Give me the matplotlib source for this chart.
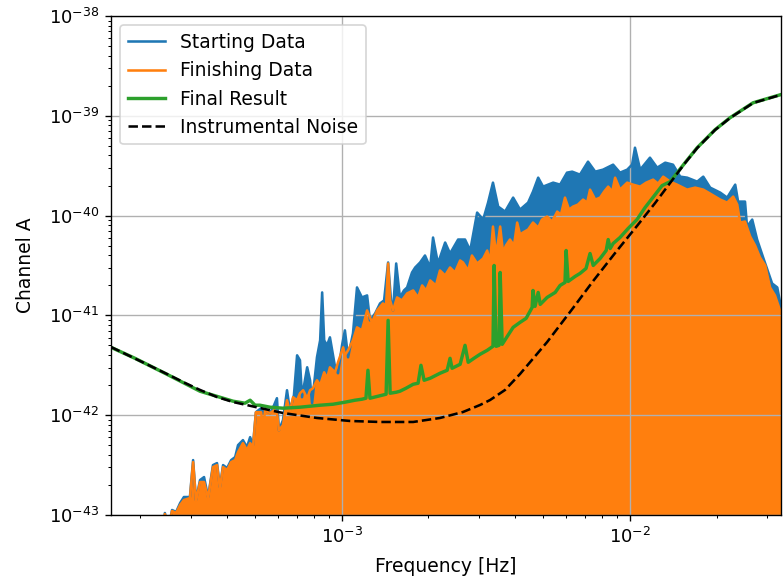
import matplotlib.pyplot as plt
import numpy as np

# %% spectra, stored as log10 values
# (frequency in Hz, channel A power)

start_logf = [
    -3.620, -3.614, -3.603, -3.589, -3.575, -3.561, -3.548, -3.527, -3.516, -3.506,
    -3.492, -3.478, -3.464, -3.447, -3.433, -3.423, -3.412, -3.398, -3.384, -3.370,
    -3.360, -3.343, -3.329, -3.318, -3.308, -3.298, -3.280, -3.266, -3.249, -3.235,
    -3.225, -3.218, -3.204, -3.190, -3.180, -3.166, -3.155, -3.145, -3.138, -3.120,
    -3.110, -3.103, -3.086, -3.075, -3.068, -3.061, -3.051, -3.041, -3.023, -3.013,
    -2.999, -2.989, -2.978, -2.961, -2.947, -2.930, -2.912, -2.902, -2.884, -2.867,
    -2.853, -2.839, -2.829, -2.822, -2.811, -2.798, -2.784, -2.773, -2.756, -2.745,
    -2.728, -2.711, -2.693, -2.683, -2.666, -2.641, -2.624, -2.596, -2.572, -2.554,
    -2.530, -2.509, -2.492, -2.475, -2.457, -2.433, -2.405, -2.381, -2.353, -2.336,
    -2.318, -2.301, -2.266, -2.242, -2.218, -2.200, -2.173, -2.145, -2.120, -2.093,
    -2.058, -2.034, -2.009, -1.992, -1.982, -1.964, -1.930, -1.905, -1.877, -1.850,
    -1.825, -1.801, -1.766, -1.745, -1.721, -1.686, -1.662, -1.634, -1.624, -1.600,
    -1.593, -1.575, -1.558, -1.537, -1.506, -1.488, -1.475,
]
start_logp = [
    -43.20, -42.98, -43.15, -42.95, -42.97, -42.88, -42.82, -42.82, -42.45, -42.85,
    -42.65, -42.62, -42.82, -42.50, -42.48, -42.72, -42.50, -42.53, -42.45, -42.42,
    -42.30, -42.25, -42.32, -42.22, -42.30, -41.97, -41.93, -41.95, -41.98, -41.90,
    -41.83, -42.15, -42.05, -41.75, -41.95, -41.80, -41.40, -41.45, -41.82, -41.52,
    -41.65, -41.88, -41.42, -41.25, -40.77, -41.25, -41.30, -41.22, -41.52, -41.58,
    -41.30, -41.15, -41.42, -41.18, -40.72, -40.82, -40.80, -41.05, -40.98, -40.88,
    -40.85, -40.47, -40.85, -40.95, -40.48, -40.82, -40.75, -40.72, -40.57, -40.52,
    -40.47, -40.40, -40.52, -40.22, -40.48, -40.27, -40.38, -40.24, -40.24, -40.35,
    -39.97, -40.04, -39.87, -39.67, -39.91, -39.96, -39.82, -39.94, -39.87, -39.76,
    -39.62, -39.71, -39.67, -39.69, -39.57, -39.56, -39.59, -39.46, -39.56, -39.54,
    -39.49, -39.57, -39.54, -39.49, -39.32, -39.54, -39.42, -39.52, -39.47, -39.49,
    -39.61, -39.62, -39.66, -39.61, -39.72, -39.77, -39.82, -39.69, -39.86, -39.86,
    -40.11, -40.04, -40.24, -40.42, -40.68, -40.72, -40.92,
]

finish_logf = [
    -3.620, -3.614, -3.603, -3.589, -3.575, -3.561, -3.548, -3.527, -3.516, -3.506,
    -3.492, -3.478, -3.464, -3.447, -3.433, -3.423, -3.412, -3.398, -3.384, -3.370,
    -3.360, -3.343, -3.329, -3.318, -3.308, -3.298, -3.280, -3.273, -3.266, -3.249,
    -3.235, -3.225, -3.218, -3.204, -3.190, -3.180, -3.169, -3.155, -3.145, -3.134,
    -3.120, -3.110, -3.100, -3.086, -3.075, -3.061, -3.051, -3.041, -3.023, -3.013,
    -2.995, -2.989, -2.978, -2.961, -2.947, -2.930, -2.912, -2.895, -2.877, -2.857,
    -2.846, -2.839, -2.832, -2.822, -2.808, -2.791, -2.773, -2.752, -2.735, -2.721,
    -2.707, -2.693, -2.673, -2.659, -2.641, -2.624, -2.607, -2.589, -2.579, -2.561,
    -2.548, -2.530, -2.509, -2.495, -2.485, -2.475, -2.464, -2.450, -2.440, -2.430,
    -2.416, -2.402, -2.391, -2.381, -2.371, -2.353, -2.336, -2.318, -2.305, -2.287,
    -2.270, -2.252, -2.239, -2.225, -2.211, -2.197, -2.180, -2.162, -2.148, -2.138,
    -2.120, -2.103, -2.089, -2.075, -2.061, -2.051, -2.034, -2.009, -1.989, -1.964,
    -1.943, -1.919, -1.902, -1.884, -1.860, -1.836, -1.801, -1.773, -1.745, -1.721,
    -1.686, -1.662, -1.641, -1.627, -1.617, -1.600, -1.582, -1.565, -1.548, -1.530,
    -1.513, -1.496, -1.475,
]
finish_logp = [
    -43.20, -42.99, -43.15, -42.96, -42.98, -42.90, -42.85, -42.83, -42.47, -42.86,
    -42.67, -42.67, -42.83, -42.52, -42.50, -42.73, -42.52, -42.55, -42.47, -42.45,
    -42.37, -42.28, -42.35, -42.28, -42.32, -41.97, -41.97, -42.12, -41.95, -41.98,
    -41.95, -41.97, -42.15, -42.10, -41.85, -41.97, -41.82, -41.85, -41.78, -41.75,
    -41.83, -41.75, -41.73, -41.65, -41.70, -41.57, -41.63, -41.52, -41.57, -41.47,
    -41.32, -41.40, -41.35, -41.25, -41.12, -41.15, -40.95, -41.07, -40.95, -40.88,
    -40.90, -40.48, -40.85, -40.95, -40.82, -40.85, -40.78, -40.75, -40.82, -40.70,
    -40.75, -40.65, -40.70, -40.55, -40.60, -40.52, -40.57, -40.45, -40.47, -40.55,
    -40.40, -40.48, -40.43, -40.35, -40.47, -40.11, -40.40, -40.11, -40.37, -40.30,
    -40.24, -40.30, -40.07, -40.19, -40.17, -40.14, -40.07, -40.12, -40.04, -40.01,
    -40.06, -39.96, -39.99, -39.82, -39.94, -39.91, -39.89, -39.84, -39.87, -39.74,
    -39.84, -39.82, -39.76, -39.71, -39.76, -39.62, -39.74, -39.67, -39.69, -39.71,
    -39.67, -39.64, -39.68, -39.61, -39.66, -39.69, -39.74, -39.72, -39.74, -39.78,
    -39.84, -39.87, -39.81, -39.89, -40.07, -40.06, -40.21, -40.30, -40.42, -40.50,
    -40.72, -40.80, -40.98,
]

result_logf = [
    -3.801, -3.718, -3.607, -3.492, -3.377, -3.336, -3.318, -3.301, -3.284, -3.249,
    -3.204, -3.145, -3.110, -3.075, -3.030, -2.989, -2.954, -2.930, -2.916, -2.909,
    -2.902, -2.874, -2.846, -2.839, -2.832, -2.811, -2.798, -2.777, -2.752, -2.735,
    -2.725, -2.714, -2.693, -2.659, -2.634, -2.624, -2.617, -2.589, -2.572, -2.561,
    -2.541, -2.520, -2.495, -2.475, -2.471, -2.464, -2.454, -2.450, -2.443, -2.423,
    -2.405, -2.381, -2.360, -2.339, -2.336, -2.329, -2.318, -2.311, -2.287, -2.259,
    -2.242, -2.225, -2.221, -2.214, -2.190, -2.173, -2.152, -2.138, -2.127, -2.103,
    -2.082, -2.075, -2.068, -2.058, -2.034, -2.006, -1.975, -1.947, -1.912, -1.888,
    -1.860, -1.808, -1.766, -1.704, -1.652, -1.572, -1.478,
]
result_logp = [
    -41.32, -41.43, -41.59, -41.76, -41.86, -41.88, -41.85, -41.90, -41.90, -41.92,
    -41.93, -41.92, -41.91, -41.90, -41.89, -41.87, -41.85, -41.84, -41.83, -41.55,
    -41.83, -41.81, -41.79, -41.05, -41.78, -41.77, -41.76, -41.73, -41.69, -41.68,
    -41.50, -41.65, -41.63, -41.58, -41.55, -41.43, -41.53, -41.49, -41.30, -41.47,
    -41.43, -41.39, -41.35, -41.31, -40.50, -41.31, -41.30, -40.57, -41.29, -41.20,
    -41.12, -41.07, -41.03, -40.92, -40.75, -40.91, -40.77, -40.89, -40.82, -40.77,
    -40.70, -40.67, -40.35, -40.66, -40.61, -40.58, -40.53, -40.38, -40.50, -40.43,
    -40.35, -40.24, -40.33, -40.28, -40.22, -40.13, -40.04, -39.92, -39.79, -39.70,
    -39.66, -39.47, -39.32, -39.14, -39.02, -38.87, -38.79,
]

noise_logf = [
    -3.801, -3.700, -3.607, -3.544, -3.492, -3.433, -3.377, -3.284, -3.204, -3.086,
    -2.971, -2.867, -2.752, -2.659, -2.579, -2.520, -2.485, -2.433, -2.381, -2.287,
    -2.197, -2.127, -2.051, -1.975, -1.912, -1.860, -1.808, -1.766, -1.704, -1.652,
    -1.572, -1.478,
]
noise_logp = [
    -41.317, -41.457, -41.587, -41.677, -41.747, -41.818, -41.868, -41.928, -41.978,
    -42.028, -42.058, -42.068, -42.068, -42.028, -41.968, -41.898, -41.848, -41.747,
    -41.587, -41.267, -40.926, -40.655, -40.375, -40.104, -39.874, -39.673, -39.473,
    -39.323, -39.142, -39.022, -38.872, -38.792,
]


def lin(v):
    return 10.0 ** np.asarray(v)


def plot_channel():
    plt.rcParams["font.size"] = 11
    floor = 1e-46
    fig = plt.figure(figsize=(6.4, 4.743), dpi=122.5)
    ax = fig.add_axes([0.1416, 0.1136, 0.8546, 0.8589])

    f_s, p_s = lin(start_logf), lin(start_logp)
    f_f, p_f = lin(finish_logf), lin(finish_logp)

    ax.fill_between(f_s, p_s, floor, color="C0", lw=0)
    ax.plot(f_s, p_s, color="C0", label="Starting Data")
    ax.fill_between(f_f, p_f, floor, color="C1", lw=0)
    ax.plot(f_f, p_f, color="C1", label="Finishing Data")
    ax.plot(lin(result_logf), lin(result_logp), color="C2", lw=2, label="Final Result")
    ax.plot(lin(noise_logf), lin(noise_logp), "k--", label="Instrumental Noise")

    ax.set_xscale("log")
    ax.set_yscale("log")
    ax.set_xlim(10 ** -3.801, 10 ** -1.475)
    ax.set_ylim(1e-43, 1e-38)
    ax.grid(True)
    ax.tick_params(labelsize=10.5)
    ax.set_xlabel("Frequency [Hz]", labelpad=6)
    ax.set_ylabel("Channel A", labelpad=8)
    ax.legend(loc="upper left")

    plt.savefig("out.png")


plot_channel()
